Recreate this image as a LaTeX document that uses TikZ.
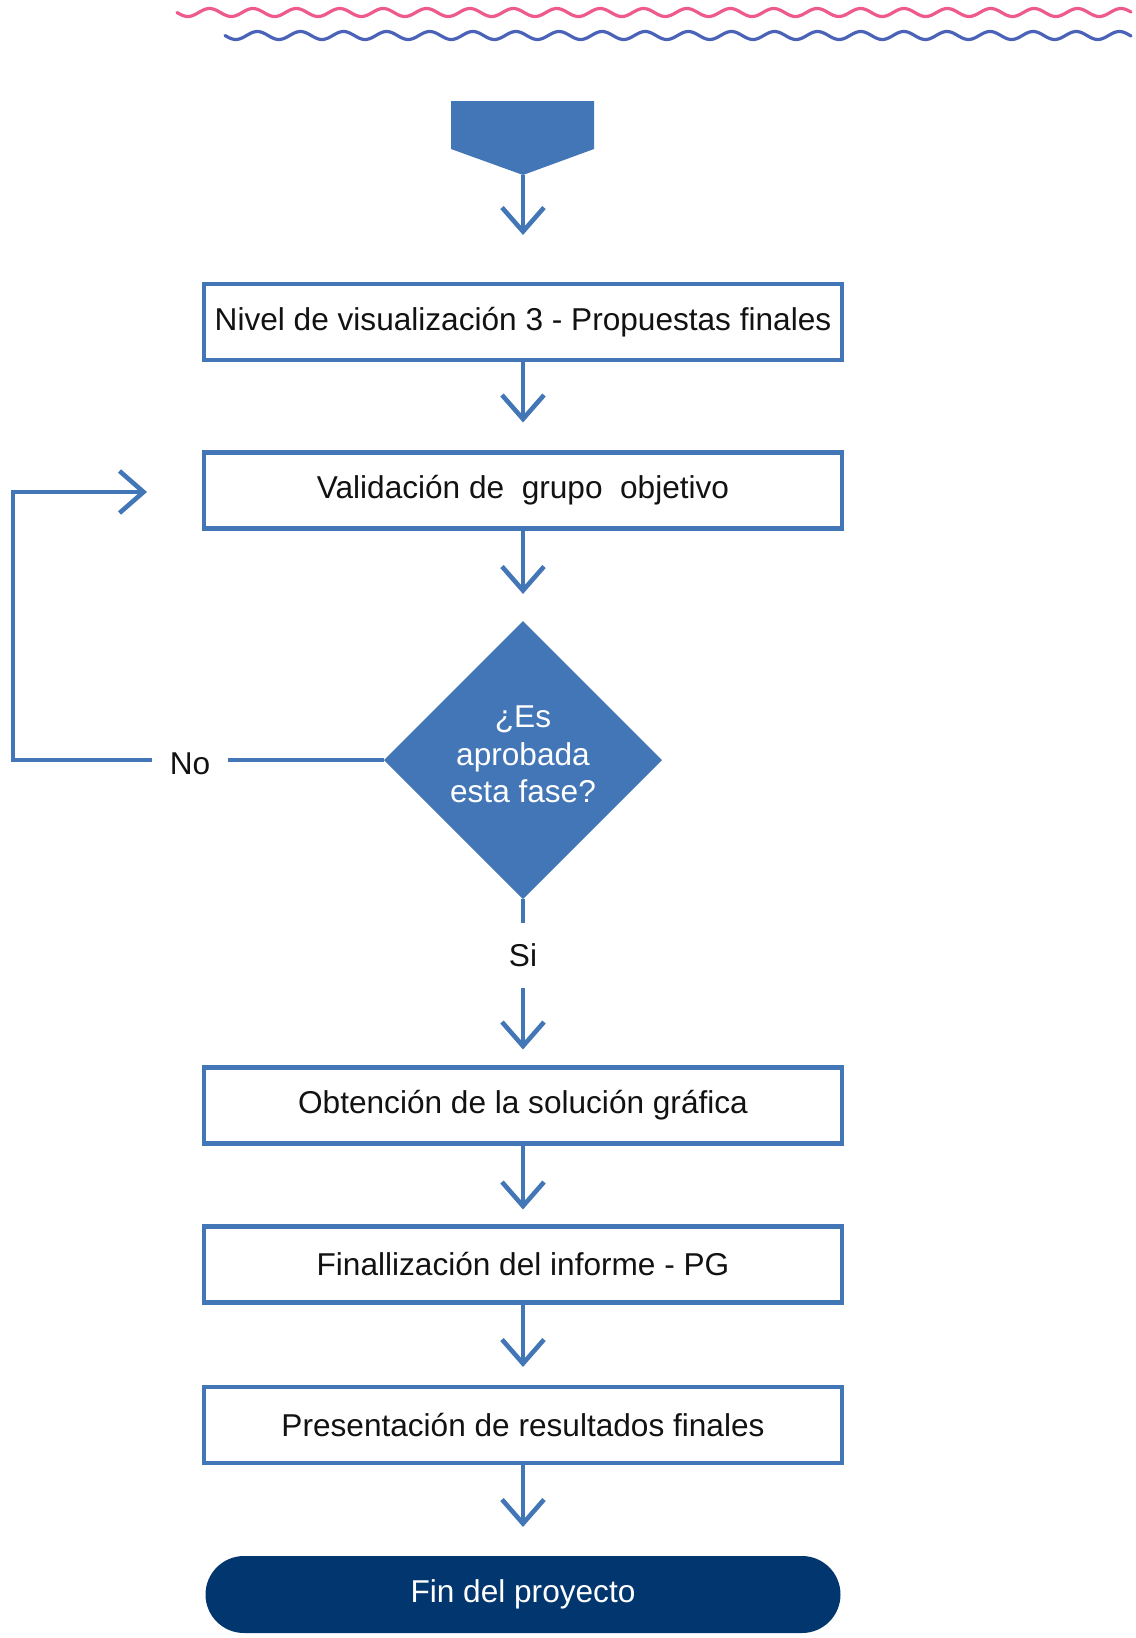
\documentclass[tikz,border=0pt]{standalone}
\usepackage{fontspec}
\setmainfont{Liberation Sans}
\usetikzlibrary{arrows.meta,shapes.geometric}
\definecolor{boxblue}{HTML}{4376B6}
\definecolor{navy}{HTML}{02366E}
\definecolor{wavepink}{HTML}{EF5A8C}
\definecolor{waveblue}{HTML}{4A63B8}
\begin{document}
\begin{tikzpicture}[x=0.5pt,y=-0.5pt,
  every node/.style={font=\fontsize{15.8pt}{18.75pt}\selectfont, text=black!93},
  box/.style={draw=boxblue, line width=2.4pt, fill=white, minimum width=319pt, minimum height=38pt, inner sep=0pt, outer sep=0pt},
  dec/.style={diamond, shape aspect=1, fill=boxblue, minimum width=139pt, minimum height=139pt, inner sep=0pt, outer sep=0pt, text=white, align=center, text depth=5.4pt},
  term/.style={rectangle, rounded corners=19.25pt, fill=navy, minimum width=317.5pt, minimum height=38.5pt, inner sep=0pt, outer sep=0pt, text=white},
  lbl/.style={inner sep=0pt, outer sep=0pt},
  arr/.style={draw=boxblue, line width=2.3pt, -{Straight Barb[length=12pt,width=21pt]}},
  conn/.style={draw=boxblue, line width=2.3pt},
  wave/.style={line width=1.6pt, line cap=round}
]
\useasboundingbox (0,0) rectangle (1135,1638);

% decorative waves
\draw[wave, wavepink] plot[domain=177:1131, samples=500, smooth] (\x,{12.5+4*sin((\x-177)*8.2949)});
\draw[wave, waveblue] plot[domain=225:1131, samples=480, smooth] (\x,{35.5+4*sin((\x-225)*8.3527)});

% start shape
\fill[boxblue] (451,101) -- (594,101) -- (594,149) -- (523,175) -- (451,149) -- cycle;
\coordinate (ptip) at (523,175);

% nodes
\node[box] (b1) at (523,322) {Nivel de visualización 3 - Propuestas finales};
\node[box] (b2) at (523,490.5) {Validación de\ \ grupo\ \ objetivo};
\node[dec] (d) at (523,760) {¿Es\\aprobada\\esta fase?};
\node[lbl, minimum height=32.5pt] (si) at (523,955.5) {Si};
\node[lbl, minimum width=38pt, text depth=0pt, text height=14pt] (no) at (190,760) {No};
\node[box] (b3) at (523,1105.5) {Obtención de la solución gráfica};
\node[box] (b4) at (523,1264.5) {Finallización del informe - PG};
\node[box] (b5) at (523,1425) {Presentación de resultados finales};
\node[term] (fin) at (523,1594.5) {Fin del proyecto};

% connectors
\draw[arr, shorten >=24.5pt] (ptip) -- (b1);
\draw[arr, shorten >=15pt] (b1) -- (b2);
\draw[arr, shorten >=13.5pt] (b2) -- (d);
\draw[conn] (d) -- (si);
\draw[arr, shorten >=9pt] (si) -- (b3);
\draw[arr, shorten >=8.5pt] (b3) -- (b4);
\draw[arr, shorten >=10pt] (b4) -- (b5);
\draw[arr, shorten >=14.5pt] (b5) -- (fin);

% loop back
\draw[conn] (d) -- (no);
\coordinate (lc) at (13,760);
\coordinate (le) at (147,492);
\draw[arr] (no) -- (lc) |- (le);
\end{tikzpicture}
\end{document}
